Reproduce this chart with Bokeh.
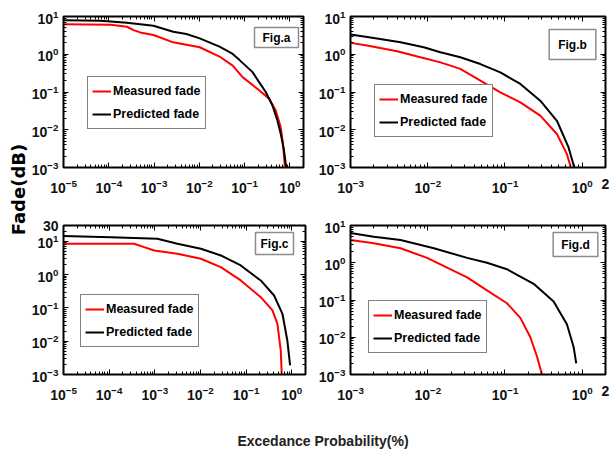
import math
from bokeh.plotting import figure
from bokeh.layouts import row, column
from bokeh.models import FixedTicker, Legend, LegendItem, Label, Range1d, LogAxis
from bokeh.embed import file_html
from bokeh.resources import INLINE

# ---------------- data (exceedance probability %, fade dB) ----------------
a_meas_x = [1e-5, 1.09e-4, 2.52e-4, 3.52e-4, 4.93e-4, 9.7e-4, 2.65e-3, 1.02e-2, 2.79e-2,
            5.46e-2, 9.04e-2, 0.209, 0.347, 0.485, 0.625, 0.703, 0.778]
a_meas_y = [6.28, 6.04, 5.35, 4.37, 3.79, 3.23, 2.07, 1.53, 0.87,
            0.50, 0.248, 0.111, 0.0668, 0.033, 0.012, 0.0044, 0.001]
a_pred_x = [1e-5, 6.6e-5, 2.52e-4, 9.7e-4, 2.65e-3, 5.19e-3, 1.02e-2, 2.79e-2, 5.46e-2,
            7.64e-2, 0.150, 0.209, 0.293, 0.41, 0.528, 0.625, 0.74, 0.83]
a_pred_y = [8.0, 7.7, 6.8, 5.7, 3.95, 3.43, 2.64, 1.59, 1.02,
            0.71, 0.336, 0.183, 0.1, 0.0446, 0.018, 0.008, 0.0029, 0.001]

b_meas_x = [1e-3, 1.64e-3, 4.01e-3, 8.03e-3, 1.46e-2, 2.64e-2, 4.80e-2, 8.7e-2, 0.158,
            0.286, 0.470, 0.633, 0.713]
b_meas_y = [2.0, 1.70, 1.20, 0.83, 0.61, 0.41, 0.20, 0.098, 0.053,
            0.0236, 0.0077, 0.00226, 0.001]
b_pred_x = [1e-3, 2.0e-3, 4.44e-3, 8.88e-3, 1.46e-2, 2.64e-2, 4.80e-2, 8.7e-2, 0.158,
            0.286, 0.470, 0.665, 0.789]
b_pred_y = [3.33, 2.71, 2.08, 1.54, 1.13, 0.83, 0.55, 0.33, 0.163,
            0.059, 0.0173, 0.0034, 0.001]

c_meas_x = [1e-5, 3.52e-4, 5.83e-4, 9.7e-4, 3.13e-3, 1.02e-2, 2.79e-2, 7.64e-2, 0.209,
            0.378, 0.485, 0.574, 0.604]
c_meas_y = [8.47, 8.47, 6.73, 5.34, 4.24, 3.0, 1.68, 0.67, 0.211,
            0.084, 0.0334, 0.0053, 0.001]
c_pred_x = [1e-5, 1.09e-4, 1.14e-3, 3.13e-3, 1.02e-2, 2.79e-2, 7.64e-2, 0.209, 0.41,
            0.625, 0.80, 0.92]
c_pred_y = [14.4, 13.4, 12.0, 8.47, 6.0, 3.78, 1.89, 0.67, 0.237,
            0.0667, 0.0105, 0.00187]

d_meas_x = [1e-3, 2.0e-3, 4.44e-3, 9.8e-3, 1.78e-2, 3.23e-2, 5.85e-2, 0.106, 0.158,
            0.213, 0.260, 0.301]
d_meas_y = [4.06, 3.32, 2.46, 1.35, 0.74, 0.406, 0.182, 0.0818, 0.0332,
            0.01, 0.0030, 0.001]
d_pred_x = [1e-3, 2.0e-3, 4.44e-3, 1.2e-2, 3.23e-2, 5.85e-2, 0.106, 0.235, 0.426,
            0.633, 0.773, 0.836]
d_pred_y = [6.3, 4.96, 4.06, 2.46, 1.35, 1.0, 0.67, 0.272, 0.0905,
            0.0223, 0.0055, 0.0020]

series_labels = ["Measured fade", "Predicted fade"]
panel_titles = ["Fig.a", "Fig.b", "Fig.c", "Fig.d"]
# decade ticks (shown as 10^n); the extra end ticks are listed first and labelled plainly
x_ticks_long = [1e-5, 1e-4, 1e-3, 1e-2, 1e-1, 1.0]
x_ticks_short = [2.0, 1e-3, 1e-2, 1e-1, 1.0]
y_ticks = [1e-3, 1e-2, 1e-1, 1.0, 10.0]
y_ticks_c = [30.0, 1e-3, 1e-2, 1e-1, 1.0, 10.0]
x_plain_labels = {2.0: "2"}
y_plain_labels_c = {30.0: "30"}
y_label = "Fade(dB)"
x_label = "Excedance Probability(%)"

FONT = "Liberation Sans"
WIDE = "DejaVu Sans"


def minor_ticks(lo, hi):
    out = []
    k0 = int(math.floor(math.log10(lo)))
    k1 = int(math.ceil(math.log10(hi)))
    for k in range(k0, k1 + 1):
        for m in range(2, 10):
            v = m * 10.0 ** k
            if lo < v < hi:
                out.append(v)
    return out


def style_axis(ax, visible_labels, standoff, overrides=None):
    ax.axis_line_color = None
    ax.major_tick_in = 5
    ax.major_tick_out = 0
    ax.minor_tick_in = 3
    ax.minor_tick_out = 0
    ax.major_tick_line_color = "black"
    ax.minor_tick_line_color = "black"
    ax.major_tick_line_width = 1
    ax.minor_tick_line_width = 1
    if visible_labels:
        ax.major_label_text_font = FONT
        ax.major_label_text_font_style = "bold"
        ax.major_label_text_font_size = "14px"
        ax.major_label_text_color = "#111111"
        ax.major_label_standoff = standoff
        if overrides:
            ax.major_label_overrides = overrides
    else:
        ax.major_label_text_font_size = "1px"
        ax.major_label_text_alpha = 0.0
        ax.major_label_standoff = 0


def make_panel(mx, my, px, py, xr, yr, xticks, yticks, title, width, height,
               mbl, mbr, mbt, mbb, legend_xy, title_xy, title_pad, xover=None, yover=None):
    p = figure(width=width, height=height, x_axis_type="log", y_axis_type="log",
               x_range=Range1d(*xr), y_range=Range1d(*yr),
               output_backend="svg", toolbar_location=None,
               min_border_left=mbl, min_border_right=mbr,
               min_border_top=mbt, min_border_bottom=mbb)
    p.grid.visible = False
    p.outline_line_color = "black"
    p.outline_line_width = 2
    p.background_fill_color = "white"
    p.border_fill_color = "white"

    p.xaxis[0].ticker = FixedTicker(ticks=xticks, minor_ticks=minor_ticks(*xr))
    p.yaxis[0].ticker = FixedTicker(ticks=yticks, minor_ticks=minor_ticks(*yr))
    style_axis(p.xaxis[0], True, 11, xover)
    style_axis(p.yaxis[0], True, 5, yover)
    top_ax = LogAxis(ticker=FixedTicker(ticks=xticks, minor_ticks=minor_ticks(*xr)))
    right_ax = LogAxis(ticker=FixedTicker(ticks=yticks, minor_ticks=minor_ticks(*yr)))
    style_axis(top_ax, False, 0)
    style_axis(right_ax, False, 0)
    p.add_layout(top_ax, "above")
    p.add_layout(right_ax, "right")

    r1 = p.line(mx, my, line_color="#ff0000", line_width=2)
    r2 = p.line(px, py, line_color="black", line_width=2)

    legend = Legend(items=[LegendItem(label=series_labels[0], renderers=[r1]),
                           LegendItem(label=series_labels[1], renderers=[r2])],
                    location=legend_xy, margin=0, padding=4, spacing=3,
                    glyph_width=19, glyph_height=20, label_height=20, label_standoff=2,
                    border_line_color="black", border_line_width=1.5,
                    background_fill_color="white", background_fill_alpha=1.0,
                    label_text_font=FONT, label_text_font_style="bold",
                    label_text_font_size="12.5px", label_text_color="black")
    p.add_layout(legend)

    p.add_layout(Label(x=title_xy[0], y=title_xy[1], x_units="screen", y_units="screen",
                       text=title, text_font=FONT, text_font_style="bold",
                       text_font_size="12px", text_color="black",
                       text_align="center", text_baseline="middle",
                       border_line_color="#8c8c8c", border_line_width=1.5,
                       background_fill_color="white", padding=title_pad))
    return p


fa = make_panel(a_meas_x, a_meas_y, a_pred_x, a_pred_y, (1e-5, 2.0), (1e-3, 10.0),
                x_ticks_long, y_ticks, panel_titles[0], 287, 208, 35, 12, 16, 40,
                (24, 38), (213, 130), (8, 3))
fb = make_panel(b_meas_x, b_meas_y, b_pred_x, b_pred_y, (1e-3, 2.0), (1e-3, 10.0),
                x_ticks_short, y_ticks, panel_titles[1], 296, 208, 35, 6, 16, 41,
                (24, 30), (222, 123), (9, 8), xover=x_plain_labels)
fc = make_panel(c_meas_x, c_meas_y, c_pred_x, c_pred_y, (1e-5, 2.0), (1e-3, 30.0),
                x_ticks_long, y_ticks_c, panel_titles[2], 287, 205, 35, 10, 17, 39,
                (17, 27), (211, 131), (5, 4), yover=y_plain_labels_c)
fd = make_panel(d_meas_x, d_meas_y, d_pred_x, d_pred_y, (1e-3, 2.0), (1e-3, 10.0),
                x_ticks_short, y_ticks, panel_titles[3], 296, 205, 35, 6, 17, 35,
                (18, 21), (225, 130), (8, 5), xover=x_plain_labels)


def text_fig(w, h):
    f = figure(width=w, height=h, output_backend="svg", toolbar_location=None,
               min_border=0, x_range=Range1d(0, 1), y_range=Range1d(0, 1))
    f.axis.visible = False
    f.grid.visible = False
    f.outline_line_color = None
    return f


ylab = text_fig(28, 449)
ylab.add_layout(Label(x=17.5, y=260, x_units="screen", y_units="screen", text=y_label,
                      angle=math.pi / 2, text_font=WIDE, text_font_style="bold",
                      text_font_size="18px", text_color="black",
                      text_align="center", text_baseline="middle"))

xlab = text_fig(583, 36)
xlab.add_layout(Label(x=294.5, y=9, x_units="screen", y_units="screen", text=x_label,
                      text_font=FONT, text_font_style="bold", text_font_size="14px",
                      text_color="#222222", text_align="center", text_baseline="alphabetic"))

layout = row(ylab, column(row(fa, fb), row(fc, fd), xlab))

open("out.html", "w").write(file_html(layout, INLINE))
